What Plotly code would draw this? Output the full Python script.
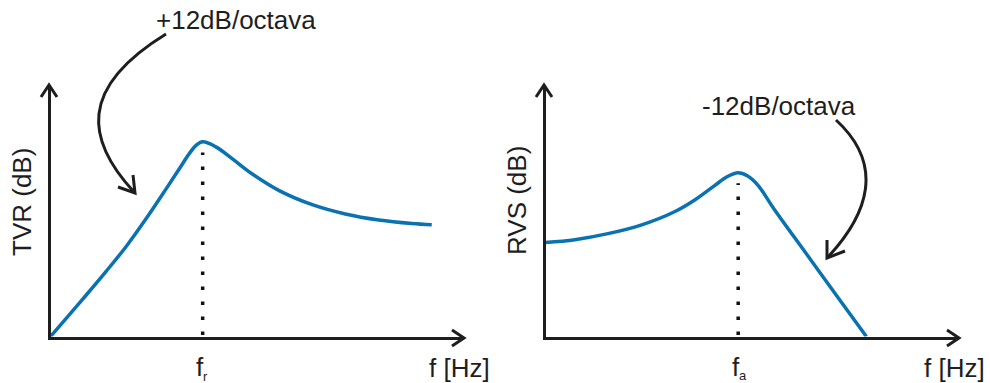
import plotly.graph_objects as go

# ---- data (arbitrary schematic units: x = frequency, y = level in dB) ----
tvr_f = [0.0, 0.39, 0.87, 1.35, 1.83, 2.31, 2.80, 3.12, 3.36, 3.52, 3.68, 4.00, 4.40, 4.88, 5.53, 6.33, 7.13, 7.94, 8.74, 9.22]
tvr_db = [0.0, 0.74, 1.66, 2.60, 3.58, 4.68, 5.88, 6.68, 7.28, 7.60, 7.74, 7.54, 7.06, 6.46, 5.80, 5.24, 4.87, 4.63, 4.49, 4.44]

rvs_f = [0.0, 0.71, 1.51, 2.31, 3.12, 3.60, 4.08, 4.40, 4.66, 4.88, 5.13, 5.53, 6.33, 7.13, 7.76]
rvs_db = [3.74, 3.85, 4.09, 4.43, 4.96, 5.42, 5.99, 6.36, 6.51, 6.39, 6.03, 5.06, 3.24, 1.42, 0.0]

axis_titles = ["TVR (dB)", "RVS (dB)"]
freq_marks = [("f", "r"), ("f", "a")]
freq_unit = "f [Hz]"
slope_labels = ["+12dB/octava", "-12dB/octava"]

W, H = 990, 383
FONT = "Liberation Sans, Arial, Helvetica, sans-serif"
INK = "#1e1e1e"
BLUE = "#0a72b0"


def px(x):
    return x / W


def py(y):
    return 1 - y / H


fig = go.Figure()

# panel geometry (pixels): origin and arrow tips
panels = [dict(x0=49, x1=464, y0=338, y1=85), dict(x0=544, x1=959, y0=338, y1=85)]
XR, YR = 10.0, 10.0
LW = 3

layout_axes = {}
for i, p in enumerate(panels):
    n = "" if i == 0 else str(i + 1)
    layout_axes["xaxis" + n] = dict(
        domain=[px(p["x0"] + LW / 2), px(p["x1"])], range=[0, XR], anchor="y" + n,
        showline=True, linewidth=LW, linecolor=INK, showgrid=False, zeroline=False,
        showticklabels=False, ticks="", fixedrange=True,
    )
    layout_axes["yaxis" + n] = dict(
        domain=[py(p["y0"] - LW / 2), py(p["y1"])], range=[0, YR], anchor="x" + n,
        showline=True, linewidth=LW, linecolor=INK, showgrid=False, zeroline=False,
        showticklabels=False, ticks="", fixedrange=True,
    )

curves = [(tvr_f, tvr_db), (rvs_f, rvs_db)]
for i, (xs, ys) in enumerate(curves):
    n = "" if i == 0 else str(i + 1)
    fig.add_trace(go.Scatter(
        x=xs, y=ys, mode="lines", line=dict(color=BLUE, width=3.5, shape="spline", smoothing=1.0),
        xaxis="x" + n, yaxis="y" + n, hoverinfo="skip", showlegend=False, cliponaxis=False,
    ))
    # dotted marker line from the axis up to the resonance peak
    k = max(range(len(ys)), key=lambda j: ys[j])
    fig.add_trace(go.Scatter(
        x=[xs[k], xs[k]], y=[0.06, ys[k] - 0.42], mode="lines",
        line=dict(color="#111111", width=3.5, dash="3.5px,11.5px"),
        xaxis="x" + n, yaxis="y" + n, hoverinfo="skip", showlegend=False,
    ))

shapes = []
# axis arrowheads (open V)
for p in panels:
    tx, ty = p["x0"], p["y1"]
    shapes.append(dict(type="path", xref="paper", yref="paper",
                       path=f"M{px(tx-8)},{py(ty+12)} L{px(tx)},{py(ty)} L{px(tx+8)},{py(ty+12)}",
                       line=dict(color=INK, width=LW)))
    tx, ty = p["x1"], p["y0"]
    shapes.append(dict(type="path", xref="paper", yref="paper",
                       path=f"M{px(tx-12)},{py(ty-8)} L{px(tx)},{py(ty)} L{px(tx-12)},{py(ty+8)}",
                       line=dict(color=INK, width=LW)))


# curved pointer arrows
def bez(p0, p1, p2, p3):
    return (f"M{px(p0[0])},{py(p0[1])} C{px(p1[0])},{py(p1[1])} "
            f"{px(p2[0])},{py(p2[1])} {px(p3[0])},{py(p3[1])}")


shapes.append(dict(type="path", xref="paper", yref="paper",
                   path=bez((166, 34), (78, 88), (86, 140), (134, 192)),
                   line=dict(color=INK, width=LW)))
shapes.append(dict(type="path", xref="paper", yref="paper",
                   path=f"M{px(118)},{py(187)} L{px(135)},{py(193)} L{px(133)},{py(175)}",
                   line=dict(color=INK, width=LW)))
shapes.append(dict(type="path", xref="paper", yref="paper",
                   path=bez((836, 120), (885, 165), (868, 214), (828, 257)),
                   line=dict(color=INK, width=LW)))
shapes.append(dict(type="path", xref="paper", yref="paper",
                   path=f"M{px(827)},{py(240)} L{px(827)},{py(258)} L{px(845)},{py(251)}",
                   line=dict(color=INK, width=LW)))

FS = 26
annotations = []


def txt(text, x, y, angle=0, size=FS):
    annotations.append(dict(text=text, x=px(x), y=py(y), xref="paper", yref="paper",
                            showarrow=False, xanchor="center", yanchor="middle", textangle=angle,
                            font=dict(family=FONT, size=size, color=INK)))


txt(slope_labels[0], 236, 20)
txt(slope_labels[1], 779, 106)
txt(axis_titles[0], 22, 202, angle=-90)
txt(axis_titles[1], 517, 201, angle=-90)
# frequency marks: main letter plus a small subscript
txt(freq_marks[0][0], 200, 367)
txt(freq_marks[0][1], 205, 376, size=13)
txt(freq_marks[1][0], 736, 367)
txt(freq_marks[1][1], 743, 375, size=13)
txt(freq_unit, 459, 368)
txt(freq_unit, 954, 368)

fig.update_layout(
    width=W, height=H, margin=dict(l=0, r=0, t=0, b=0),
    paper_bgcolor="white", plot_bgcolor="white",
    shapes=shapes, annotations=annotations, showlegend=False,
    **layout_axes,
)

fig.write_html("out.html", config={"displayModeBar": False})
